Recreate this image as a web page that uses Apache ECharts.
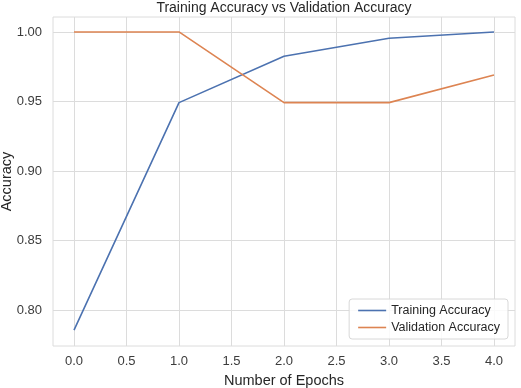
<!DOCTYPE html>
<html><head><meta charset="utf-8">
<script src="https://cdn.jsdelivr.net/npm/echarts@6/dist/echarts.min.js"></script>
<style>html,body{margin:0;padding:0;background:#fff}#c{width:521px;height:388px}</style>
</head><body><div id="c"></div>
<script>
const epochs = [0, 1, 2, 3, 4];
const trainingAccuracy = [0.7857, 0.9492, 0.9825, 0.9955, 1.0];
const validationAccuracy = [1.0, 1.0, 0.9492, 0.9492, 0.9690];
const xTicks = [0, 0.5, 1, 1.5, 2, 2.5, 3, 3.5, 4];
const yTicks = [0.80, 0.85, 0.90, 0.95, 1.00];

const FONT = '"Liberation Sans", Arial, sans-serif';
const chart = echarts.init(document.getElementById('c'), null, {renderer: 'canvas'});
const gridColor = '#dcdcdc';
const lineIcon = 'path://M0,0 L28,0 L28,1.6 L0,1.6 Z';
chart.setOption({
  animation: false,
  backgroundColor: '#fff',
  textStyle: {fontFamily: FONT},
  title: {
    text: 'Training Accuracy vs Validation Accuracy',
    left: 284, top: 1, textAlign: 'center', padding: 0,
    textStyle: {fontFamily: FONT, fontSize: 14, fontWeight: 'normal', color: '#262626'}
  },
  grid: {left: 53, right: 6, top: 17, bottom: 42, outerBoundsMode: 'none', containLabel: false,
    show: true, borderColor: gridColor, borderWidth: 1},
  legend: {
    orient: 'vertical', right: 13, bottom: 49,
    backgroundColor: 'rgba(255,255,255,0.85)', borderColor: '#d8d8d8', borderWidth: 1, borderRadius: 3,
    padding: [5, 8, 5, 9], itemGap: 4, itemWidth: 28, itemHeight: 14,
    textStyle: {fontFamily: FONT, fontSize: 12.5, color: '#262626'},
    data: [
      {name: 'Training Accuracy', icon: lineIcon, itemStyle: {color: '#4c72b0'}},
      {name: 'Validation Accuracy', icon: lineIcon, itemStyle: {color: '#dd8452'}}
    ]
  },
  xAxis: {
    type: 'value', min: -0.2, max: 4.2,
    name: 'Number of Epochs', nameLocation: 'middle', nameGap: 27, nameMoveOverlap: false,
    nameTextStyle: {fontFamily: FONT, fontSize: 14.5, color: '#262626'},
    axisLine: {show: false}, axisTick: {show: false, customValues: xTicks},
    axisLabel: {customValues: xTicks, margin: 9, fontSize: 13, color: '#3c3c3c', fontFamily: FONT,
      formatter: v => v.toFixed(1)},
    splitLine: {show: true, lineStyle: {color: gridColor, width: 1}}
  },
  yAxis: {
    type: 'value', min: 0.7743, max: 1.01075,
    name: 'Accuracy', nameLocation: 'middle', nameGap: 39, nameMoveOverlap: false,
    nameTextStyle: {fontFamily: FONT, fontSize: 14.5, color: '#262626'},
    axisLine: {show: false}, axisTick: {show: false, customValues: yTicks},
    axisLabel: {customValues: yTicks, margin: 11, fontSize: 13, color: '#3c3c3c', fontFamily: FONT,
      formatter: v => v.toFixed(2)},
    splitLine: {show: true, lineStyle: {color: gridColor, width: 1}}
  },
  series: [
    {name: 'Training Accuracy', type: 'line', symbol: 'none', data: epochs.map((e, i) => [e, trainingAccuracy[i]]),
      lineStyle: {color: '#4c72b0', width: 1.6}, itemStyle: {color: '#4c72b0'}},
    {name: 'Validation Accuracy', type: 'line', symbol: 'none', data: epochs.map((e, i) => [e, validationAccuracy[i]]),
      lineStyle: {color: '#dd8452', width: 1.6}, itemStyle: {color: '#dd8452'}}
  ]
});
</script></body></html>
